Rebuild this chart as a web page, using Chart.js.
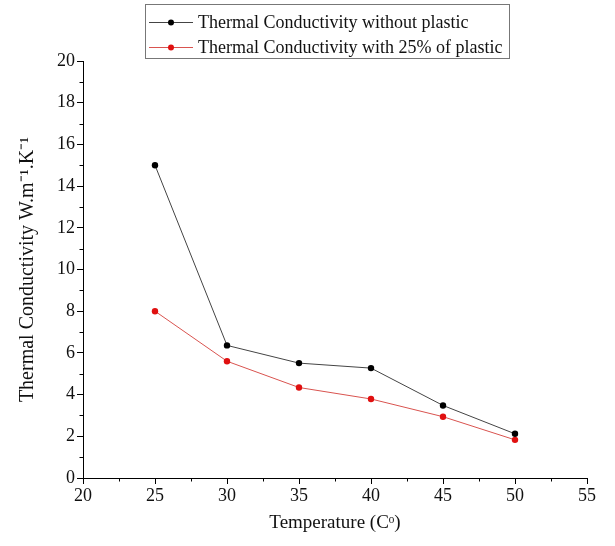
<!DOCTYPE html>
<html>
<head>
<meta charset="utf-8">
<script src="https://cdn.jsdelivr.net/npm/chart.js@4.4.0/dist/chart.umd.min.js"></script>
<style>
html,body{margin:0;padding:0;background:#fff;}
#wrap{width:615px;height:546px;position:relative;}
</style>
</head>
<body>
<div id="wrap"><canvas id="c" width="615" height="546"></canvas></div>
<script>
const temperatures = [25, 30, 35, 40, 45, 50];
const withoutPlastic = [15.0, 6.36, 5.51, 5.27, 3.48, 2.12];
const withPlastic = [8.0, 5.6, 4.34, 3.79, 2.94, 1.83];
const seriesLabels = ["Thermal Conductivity without plastic", "Thermal Conductivity with 25% of plastic"];
const xTitle = "Temperature (C\u1D52)";
const yTitle = "Thermal Conductivity W.m\u207B\u00B9.K\u207B\u00B9";

const FONT = "'Liberation Serif', 'Times New Roman', serif";

const minorTicks = {
  id: 'minorTicks',
  afterDraw(chart) {
    const ctx = chart.ctx, xs = chart.scales.x, ys = chart.scales.y;
    const ca = chart.chartArea;
    ctx.save();
    ctx.strokeStyle = '#000';
    ctx.lineWidth = 1;
    ctx.beginPath();
    const xt = xs.ticks;
    for (let i = 0; i < xt.length - 1; i++) {
      const px = Math.round(xs.getPixelForValue((xt[i].value + xt[i + 1].value) / 2)) + 0.5;
      ctx.moveTo(px, ca.bottom); ctx.lineTo(px, ca.bottom + 3.5);
    }
    const yt = ys.ticks;
    for (let i = 0; i < yt.length - 1; i++) {
      const py = Math.round(ys.getPixelForValue((yt[i].value + yt[i + 1].value) / 2)) + 0.5;
      ctx.moveTo(ca.left, py); ctx.lineTo(ca.left - 3.5, py);
    }
    ctx.stroke();
    ctx.restore();
  }
};

const boxLegend = {
  id: 'boxLegend',
  afterDraw(chart) {
    const ctx = chart.ctx;
    const ds = chart.data.datasets;
    const left = 145, top = 4.5, width = 364, height = 54;
    ctx.save();
    ctx.strokeStyle = '#777';
    ctx.lineWidth = 1;
    ctx.strokeRect(left + 0.5, top, width, height);
    ctx.font = "18px " + FONT;
    ctx.textBaseline = 'middle';
    ctx.textAlign = 'left';
    ds.forEach((d, i) => {
      const cy = 22 + i * 25;
      ctx.strokeStyle = d.borderColor;
      ctx.lineWidth = 1;
      ctx.beginPath();
      ctx.moveTo(149, cy + 0.5); ctx.lineTo(193, cy + 0.5);
      ctx.stroke();
      ctx.fillStyle = d.pointBackgroundColor;
      ctx.beginPath();
      ctx.arc(171, cy + 0.5, 3, 0, Math.PI * 2);
      ctx.fill();
      ctx.fillStyle = '#111';
      ctx.fillText(d.label, 198, cy + 1);
    });
    ctx.restore();
  }
};

new Chart(document.getElementById('c'), {
  type: 'line',
  data: {
    datasets: [
      {
        label: seriesLabels[0],
        data: temperatures.map((t, i) => ({ x: t, y: withoutPlastic[i] })),
        borderColor: '#444',
        borderWidth: 1,
        pointBackgroundColor: '#000',
        pointBorderColor: '#000',
        pointRadius: 3.2,
        pointBorderWidth: 0,
        tension: 0
      },
      {
        label: seriesLabels[1],
        data: temperatures.map((t, i) => ({ x: t, y: withPlastic[i] })),
        borderColor: '#d9534f',
        borderWidth: 1,
        pointBackgroundColor: '#e01010',
        pointBorderColor: '#e01010',
        pointRadius: 3.2,
        pointBorderWidth: 0,
        tension: 0
      }
    ]
  },
  options: {
    responsive: false,
    animation: false,
    layout: { padding: { top: 61, right: 28, left: 0, bottom: 0 } },
    plugins: {
      legend: { display: false },
      tooltip: { enabled: false }
    },
    scales: {
      x: {
        type: 'linear',
        min: 20, max: 55,
        ticks: { stepSize: 5, color: '#111', font: { family: FONT, size: 18 }, padding: 1, maxRotation: 0 },
        grid: { drawOnChartArea: false, tickLength: 6, tickColor: '#000', tickWidth: 1 },
        border: { color: '#000', width: 1 },
        title: { display: true, text: xTitle, color: '#111', font: { family: FONT, size: 19 }, padding: { top: 8, bottom: 12 } },
        afterFit(s) { s.height = 68; }
      },
      y: {
        min: 0, max: 20,
        ticks: { stepSize: 2, color: '#111', font: { family: FONT, size: 18 }, padding: 2 },
        grid: { drawOnChartArea: false, tickLength: 6, tickColor: '#000', tickWidth: 1 },
        border: { color: '#000', width: 1 },
        title: { display: true, text: yTitle, color: '#111', font: { family: FONT, size: 20 }, padding: { top: 16, bottom: 4 } },
        afterFit(s) { s.width = 83; }
      }
    }
  },
  plugins: [minorTicks, boxLegend]
});
</script>
</body>
</html>
